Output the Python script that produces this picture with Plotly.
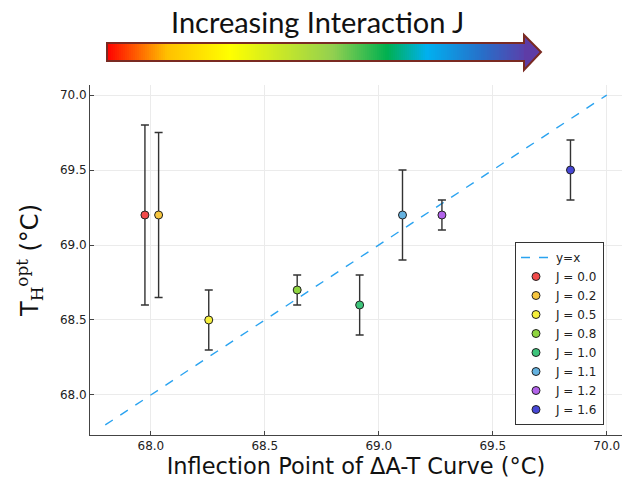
import plotly.graph_objects as go

# ---------------- data ----------------
J_labels = ["J = 0.0", "J = 0.2", "J = 0.5", "J = 0.8", "J = 1.0", "J = 1.1", "J = 1.2", "J = 1.6"]
x_inflection = [67.974, 68.034, 68.254, 68.642, 68.916, 69.104, 69.277, 69.841]
t_opt = [69.2, 69.2, 68.5, 68.7, 68.6, 69.2, 69.2, 69.5]
t_err = [0.6, 0.55, 0.2, 0.1, 0.2, 0.3, 0.1, 0.2]
point_colors = ["#f24a4a", "#f7c63e", "#f6f03c", "#8fd53f", "#3ec57b", "#64b2e0", "#b263ea", "#4747d6"]
diag = [67.8, 70.0]
x_ticks = [68.0, 68.5, 69.0, 69.5, 70.0]
y_ticks = [68.0, 68.5, 69.0, 69.5, 70.0]
x_range = [67.733, 70.067]
y_range = [67.733, 70.067]

# ---------------- figure geometry ----------------
OFF = 0
W, H = 630, 488
ML, MR, MT, MB = 90, 8, 85, 53
PW, PH = W - ML - MR, H - MT - MB

def px(xs):  # screen x -> paper
    return (xs - OFF - ML) / PW

def py(ys):  # screen y -> paper
    return (OFF + H - MB - ys) / PH

fig = go.Figure()

fig.add_trace(go.Scatter(
    x=diag, y=diag, mode="lines", name="y=x",
    line=dict(color="#2aa3f0", width=1.4, dash="dash"),
))

for lab, xv, yv, ev, c in zip(J_labels, x_inflection, t_opt, t_err, point_colors):
    fig.add_trace(go.Scatter(
        x=[xv], y=[yv], mode="markers", name=lab,
        marker=dict(color=c, size=8, line=dict(color="#222222", width=1)),
        error_y=dict(type="data", array=[ev], visible=True, color="#333333", thickness=1.4, width=4),
    ))

# ---------------- gradient arrow (decoration) ----------------
stops = [(107, (255, 0, 0)), (167, (255, 192, 0)), (230, (255, 255, 0)),
         (333, (146, 208, 80)), (387, (0, 176, 80)), (427, (0, 176, 240)),
         (483, (40, 110, 200)), (533, (100, 55, 165))]

def col_at(xs):
    if xs <= stops[0][0]:
        return stops[0][1]
    for (x0, c0), (x1, c1) in zip(stops[:-1], stops[1:]):
        if x0 <= xs <= x1:
            t = (xs - x0) / (x1 - x0)
            return tuple(int(round(a + (b - a) * t)) for a, b in zip(c0, c1))
    return stops[-1][1]

body_l, body_r, body_t, body_b = 107, 524, 43, 61
head_t, head_b, tip_x, tip_y = 35, 70, 541, 52
shapes = []
step = 2
xs = body_l
while xs < body_r:
    x1 = min(xs + step, body_r)
    r, g, b = col_at((xs + x1) / 2)
    shapes.append(dict(type="rect", xref="paper", yref="paper",
                       x0=px(xs), x1=px(x1 + 0.6), y0=py(body_b), y1=py(body_t),
                       line=dict(width=0), fillcolor=f"rgb({r},{g},{b})", layer="above"))
    xs = x1

head_path = f"M {px(body_r)},{py(head_t)} L {px(tip_x)},{py(tip_y)} L {px(body_r)},{py(head_b)} Z"
shapes.append(dict(type="path", xref="paper", yref="paper", path=head_path,
                   fillcolor="#5e3ca6", line=dict(width=0), layer="above"))
outline = (f"M {px(body_l)},{py(body_t)} L {px(body_r)},{py(body_t)} L {px(body_r)},{py(head_t)} "
           f"L {px(tip_x)},{py(tip_y)} L {px(body_r)},{py(head_b)} L {px(body_r)},{py(body_b)} "
           f"L {px(body_l)},{py(body_b)} Z")
shapes.append(dict(type="path", xref="paper", yref="paper", path=outline,
                   line=dict(color="#7a2a22", width=2), layer="above"))

fig.update_layout(
    width=W, height=H,
    margin=dict(l=ML, r=MR, t=MT, b=MB, autoexpand=False),
    paper_bgcolor="white", plot_bgcolor="white",
    font=dict(family="DejaVu Sans", color="#222222"),
    shapes=shapes,
    annotations=[dict(text="Increasing Interaction J", xref="paper", yref="paper",
                      x=px(317), y=py(21), xanchor="center", yanchor="middle",
                      showarrow=False, font=dict(family="Lato", size=29, color="#111111"))],
    showlegend=True,
    legend=dict(x=px(604), y=py(425), xanchor="right", yanchor="bottom",
                bgcolor="white", bordercolor="#333333", borderwidth=1,
                font=dict(size=12, color="#222222"), itemwidth=30,
                tracegroupgap=0),
)

fig.update_xaxes(
    range=x_range, tickvals=x_ticks, ticktext=[f"{v:.1f}" for v in x_ticks],
    showgrid=True, gridcolor="#ebebeb", gridwidth=1, zeroline=False,
    showline=True, linecolor="#444444", linewidth=1,
    ticks="inside", ticklen=4, tickcolor="#444444",
    tickfont=dict(size=12, color="#222222"),
    title=dict(text="Inflection Point of ΔA-T Curve (°C)", font=dict(size=22.5, color="#111111"), standoff=5),
)
fig.update_yaxes(
    range=y_range, tickvals=y_ticks, ticktext=[f"{v:.1f}" for v in y_ticks],
    showgrid=True, gridcolor="#ebebeb", gridwidth=1, zeroline=False,
    showline=True, linecolor="#444444", linewidth=1,
    ticks="inside", ticklen=4, tickcolor="#444444",
    tickfont=dict(size=12, color="#222222"),
    title=dict(text="T<sub><span style='font-family:DejaVu Serif'>H</span></sub><sup><span style='font-family:DejaVu Serif'>opt</span></sup> (°C)",
               font=dict(size=24, color="#111111"), standoff=14),
)

fig.write_html("out.html", config={"displayModeBar": False},
               post_script="document.body.style.margin='0';")
